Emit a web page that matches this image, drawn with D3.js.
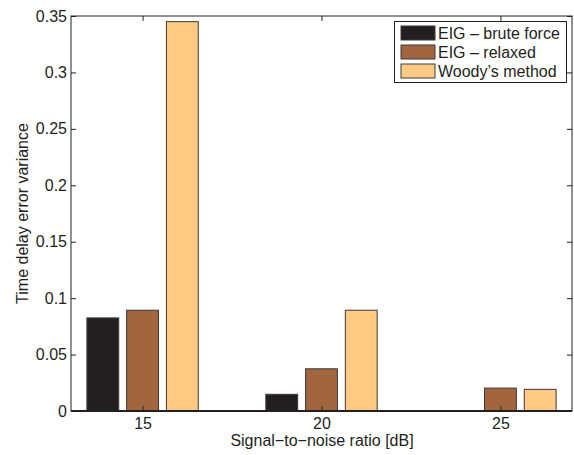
<!DOCTYPE html>
<html>
<head>
<meta charset="utf-8">
<script src="https://cdn.jsdelivr.net/npm/d3@7"></script>
<style>
body { margin: 0; background: #fff; }
svg { display: block; font-family: "Liberation Sans", Arial, sans-serif; }
</style>
</head>
<body>
<svg id="chart" width="574" height="455"></svg>
<script>
const categories = ["15", "20", "25"];
const seriesNames = ["EIG \u2013 brute force", "EIG \u2013 relaxed", "Woody\u2019s method"];
const bruteForce = [0.0825, 0.0148, 0];
const relaxed = [0.0893, 0.0374, 0.0203];
const woody = [0.345, 0.0893, 0.0192];
const yTicks = [0, 0.05, 0.1, 0.15, 0.2, 0.25, 0.3, 0.35];
const yTickLabels = ["0", "0.05", "0.1", "0.15", "0.2", "0.25", "0.3", "0.35"];
const colors = ["#231f20", "#a2663f", "#fec982"];

const series = [bruteForce, relaxed, woody];
const svg = d3.select("#chart");
const L = 71, R = 572, T = 16, B = 411;
const FS = 16;

const x = d3.scaleLinear().domain([0.6, 3.4]).range([L, R]);
const y = d3.scaleLinear().domain([0, 0.35]).range([B, T]);
const offset = 0.2222, barW = 0.178;

// bars
series.forEach((vals, si) => {
  svg.append("g").selectAll("rect").data(vals).join("rect")
    .filter(d => d > 0)
    .attr("x", (d, i) => x(i + 1 + (si - 1) * offset - barW / 2))
    .attr("width", x(barW) - x(0))
    .attr("y", d => y(d))
    .attr("height", d => y(0) - y(d))
    .attr("fill", colors[si])
    .attr("stroke", "#3a3a3a")
    .attr("stroke-width", 1);
});

// axes
const tickLen = 5;
const yAxisL = d3.axisLeft(y).tickValues(yTicks).tickFormat((d, i) => yTickLabels[i]).tickSizeInner(-tickLen).tickSizeOuter(0).tickPadding(4);
const yAxisR = d3.axisRight(y).tickValues(yTicks).tickFormat("").tickSizeInner(-tickLen).tickSizeOuter(0);
const xAxisB = d3.axisBottom(x).tickValues([1, 2, 3]).tickFormat((d, i) => categories[i]).tickSizeInner(-tickLen).tickSizeOuter(0).tickPadding(7);
const xAxisT = d3.axisTop(x).tickValues([1, 2, 3]).tickFormat("").tickSizeInner(-tickLen).tickSizeOuter(0);

function style(g) {
  g.select(".domain").remove();
  g.selectAll("line").attr("stroke", "#231f20").attr("stroke-width", 1);
  g.selectAll("text").attr("font-size", FS).attr("fill", "#231f20").attr("font-family", "Liberation Sans, Arial, sans-serif");
}
svg.append("g").attr("transform", `translate(${L},0)`).call(yAxisL).call(style);
svg.append("g").attr("transform", `translate(${R},0)`).call(yAxisR).call(style);
svg.append("g").attr("transform", `translate(0,${B})`).call(xAxisB).call(style);
svg.append("g").attr("transform", `translate(0,${T})`).call(xAxisT).call(style);

// box
svg.append("rect").attr("x", L).attr("y", T).attr("width", R - L).attr("height", B - T)
  .attr("fill", "none").attr("stroke", "#231f20").attr("stroke-width", 1);
svg.append("line").attr("x1", L).attr("x2", R).attr("y1", B).attr("y2", B)
  .attr("stroke", "#231f20").attr("stroke-width", 2);

// labels
svg.append("text").attr("x", (L + R) / 2 + 0.5).attr("y", 446).attr("text-anchor", "middle")
  .attr("font-size", FS).attr("fill", "#231f20").text("Signal\u2212to\u2212noise ratio [dB]");
svg.append("text").attr("transform", `translate(28,${(T + B) / 2}) rotate(-90)`).attr("text-anchor", "middle")
  .attr("font-size", FS).attr("fill", "#231f20").text("Time delay error variance");

// legend
const lg = svg.append("g");
lg.append("rect").attr("x", 394.5).attr("y", 21.5).attr("width", 172).attr("height", 61)
  .attr("fill", "#fff").attr("stroke", "#231f20").attr("stroke-width", 1);
seriesNames.forEach((name, i) => {
  const cy = 33 + i * 19;
  lg.append("rect").attr("x", 401).attr("y", cy - 7).attr("width", 34).attr("height", 14)
    .attr("fill", colors[i]).attr("stroke", "#3a3a3a").attr("stroke-width", 1);
  lg.append("text").attr("x", 438).attr("y", cy + 6).attr("font-size", FS).attr("fill", "#231f20").text(name);
});
</script>
</body>
</html>
